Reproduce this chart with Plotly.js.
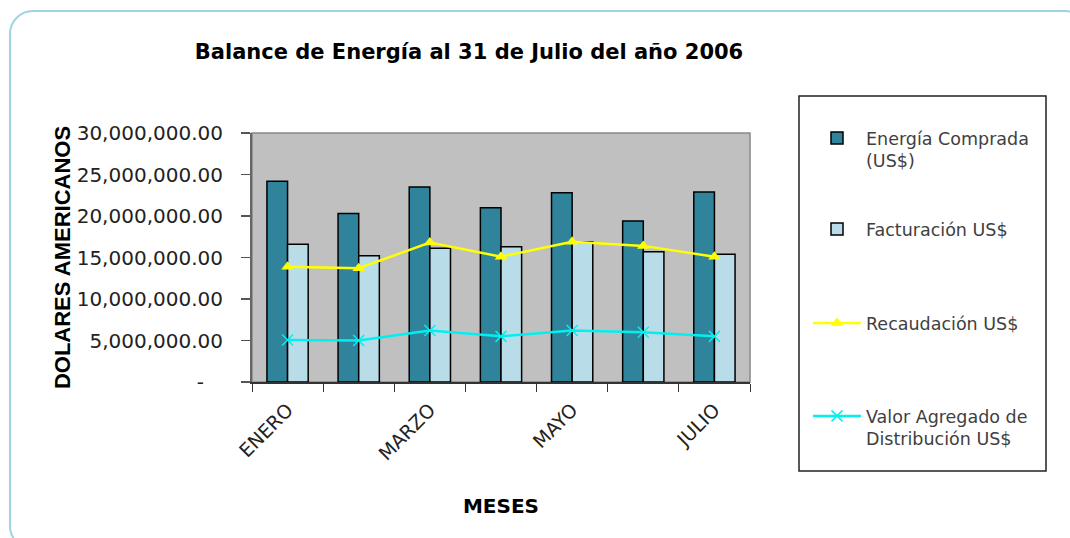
<!DOCTYPE html>
<html>
<head>
<meta charset="utf-8">
<script src="https://cdn.plot.ly/plotly-3.0.1.min.js"></script>
<style>
  html, body { margin: 0; padding: 0; background: #ffffff; }
  #frame { position: absolute; left: 9px; top: 10px; width: 1080px; height: 540px;
           border: 2px solid #9fd3e4; border-radius: 24px; box-sizing: border-box; }
  #chart { position: absolute; left: 0; top: 0; width: 1070px; height: 538px; }
</style>
</head>
<body>
<div id="frame"></div>
<div id="chart"></div>
<script>
const months = ['ENERO', 'FEBRERO', 'MARZO', 'ABRIL', 'MAYO', 'JUNIO', 'JULIO'];
const monthTickLabels = ['ENERO', '', 'MARZO', '', 'MAYO', '', 'JULIO'];
const energiaComprada = [24200000, 20300000, 23500000, 21000000, 22800000, 19400000, 22900000];
const facturacion = [16600000, 15200000, 16100000, 16300000, 16900000, 15700000, 15400000];
const recaudacion = [13900000, 13700000, 16800000, 15100000, 16900000, 16400000, 15100000];
const valorAgregado = [5060000, 5000000, 6200000, 5500000, 6200000, 6000000, 5500000];
const yTickValues = [0, 5000000, 10000000, 15000000, 20000000, 25000000, 30000000];
const yTickLabels = ['-\u00a0\u00a0\u00a0', '5,000,000.00', '10,000,000.00', '15,000,000.00',
                     '20,000,000.00', '25,000,000.00', '30,000,000.00'];

const W = 1070, H = 538;
const L = 252, R = 750, T = 133, B = 382;
const px = x => (x - L) / (R - L);
const py = y => (B - y) / (B - T);

const legendFont = {family: 'DejaVu Sans', size: 17.5, color: '#404040'};
function legendAt(xPix, yPix) {
  return {x: px(xPix), y: py(yPix), xanchor: 'left', yanchor: 'top', bgcolor: 'rgba(0,0,0,0)',
          borderwidth: 0, font: legendFont, itemwidth: 48, valign: 'top', itemclick: false};
}

const traces = [
  {type: 'bar', name: 'Energía Comprada<br>(US$)', x: months, y: energiaComprada,
   marker: {color: '#2f849c', line: {color: '#000000', width: 1.5}}, legend: 'legend'},
  {type: 'bar', name: 'Facturación US$', x: months, y: facturacion,
   marker: {color: '#b8dde8', line: {color: '#000000', width: 1.5}}, legend: 'legend2'},
  {type: 'scatter', mode: 'lines+markers', name: 'Recaudación US$', x: months, y: recaudacion,
   line: {color: '#ffff00', width: 2.5}, marker: {symbol: 'triangle-up', size: 11, color: '#ffff00'},
   legend: 'legend3'},
  {type: 'scatter', mode: 'lines+markers', name: 'Valor Agregado de<br>Distribución US$', x: months, y: valorAgregado,
   line: {color: '#00f0f0', width: 2.5}, marker: {symbol: 'x-thin', size: 11, line: {color: '#00f0f0', width: 1.5}},
   legend: 'legend4'}
];

const layout = {
  width: W, height: H,
  margin: {l: L, r: W - R, t: T, b: H - B, pad: 0},
  paper_bgcolor: 'rgba(0,0,0,0)',
  plot_bgcolor: '#c0c0c0',
  barmode: 'group', bargap: 0.42, bargroupgap: 0,
  title: {text: 'Balance de Energía al 31 de Julio del año 2006',
          font: {family: 'DejaVu Sans', size: 21, color: '#000000', weight: 'bold'},
          x: 469 / W, xanchor: 'center', xref: 'container',
          y: 1 - 52 / H, yanchor: 'middle', yref: 'container'},
  xaxis: {type: 'category', tickvals: months, ticktext: monthTickLabels, tickson: 'boundaries',
          ticks: 'outside', ticklen: 8, tickcolor: '#333', tickwidth: 1, ticklabelstandoff: 8,
          tickangle: -45, tickfont: {family: 'DejaVu Sans', size: 19, color: '#222'},
          showline: true, linecolor: '#333', linewidth: 1.5, showgrid: false, zeroline: false,
          title: {text: 'MESES', font: {family: 'DejaVu Sans', size: 20, color: '#000', weight: 'bold'}, standoff: 35}},
  yaxis: {range: [0, 30000000], tickvals: yTickValues, ticktext: yTickLabels,
          ticks: 'outside', ticklen: 9, tickcolor: '#555', tickwidth: 1.5, ticklabelstandoff: 14,
          tickfont: {family: 'DejaVu Sans', size: 20, color: '#222'},
          showline: true, linecolor: '#666', linewidth: 2, showgrid: false, zeroline: false,
          title: {text: 'DOLARES AMERICANOS', font: {family: 'Liberation Sans', size: 22, color: '#000', weight: 'bold'}, standoff: 0}},
  showlegend: true,
  legend: legendAt(808, 120),
  legend2: legendAt(808, 211),
  legend3: legendAt(808, 305),
  legend4: legendAt(808, 398),
  shapes: [
    {type: 'rect', xref: 'paper', yref: 'paper', x0: 0, x1: 1, y0: 0, y1: 1,
     line: {color: '#888888', width: 1.5}, layer: 'below'},
    {type: 'rect', xref: 'paper', yref: 'paper', x0: px(799), x1: px(1046), y0: py(96), y1: py(471),
     line: {color: '#222222', width: 1.5}, fillcolor: 'rgba(0,0,0,0)'}
  ]
};

Plotly.newPlot('chart', traces, layout, {displayModeBar: false, staticPlot: true});
</script>
</body>
</html>
